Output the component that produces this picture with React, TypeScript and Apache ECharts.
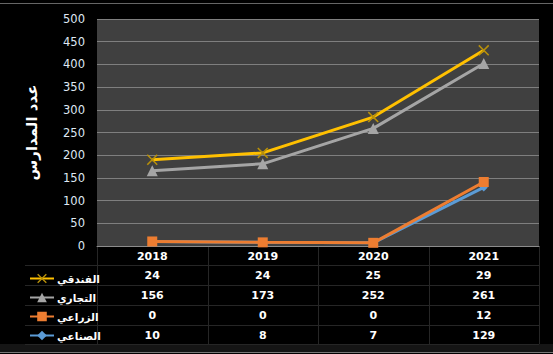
import React, { useEffect, useRef } from "react";
import * as echarts from "echarts";

const categories = ["2018", "2019", "2020", "2021"];
const seriesNames = ["الفندقي", "التجاري", "الزراعي", "الصناعي"];
const hotelValues = [24, 24, 25, 29];
const commercialValues = [156, 173, 252, 261];
const agricultureValues = [0, 0, 0, 12];
const industrialValues = [10, 8, 7, 129];
const yTicks = { min: 0, max: 500, interval: 50 };
const yTitle = "عدد المدارس";

const COLORS = {
  hotel: "#ffc000",
  commercial: "#a5a5a5",
  agriculture: "#ed7d31",
  industrial: "#5b9bd5",
};

const X_SYMBOL = "path://M0,1L1,0L5,4L9,0L10,1L6,5L10,9L9,10L5,6L1,10L0,9L4,5Z";
const FONT = "'DejaVu Sans', 'Noto Sans', sans-serif";

const GRID = { left: 97, right: 14, top: 19, bottom: 108 };

export default function App() {
  const ref = useRef<HTMLDivElement>(null);
  useEffect(() => {
    if (!ref.current) return;
    const chart = echarts.init(ref.current, null, { renderer: "svg" });
    const mkSeries = (
      name: string,
      data: number[],
      color: string,
      symbol: string,
      symbolSize: number,
      markerColor: string
    ) => ({
      name,
      type: "line",
      stack: "total",
      data,
      symbol,
      symbolSize,
      lineStyle: { color, width: 3 },
      itemStyle: { color: markerColor },
    });
    chart.setOption({
      animation: false,
      backgroundColor: "#000000",
      textStyle: { fontFamily: FONT },
      grid: {
        ...GRID,
        show: true,
        backgroundColor: "#404040",
        borderWidth: 0,
      },
      legend: {
        orient: "vertical",
        left: 24,
        top: 268,
        itemWidth: 24,
        itemHeight: 12,
        itemGap: 8,
        data: seriesNames,
        textStyle: { color: "#ffffff", fontWeight: "bold", fontSize: 10.5, fontFamily: FONT, padding: [0, 0, 0, -2] },
      },
      xAxis: {
        type: "category",
        data: categories,
        boundaryGap: true,
        axisLine: { lineStyle: { color: "#8c8c8c", width: 1 } },
        axisTick: { show: false },
        axisLabel: { color: "#ffffff", fontWeight: "bold", fontSize: 11, margin: 5, fontFamily: FONT },
        splitLine: { show: false },
      },
      yAxis: {
        type: "value",
        min: yTicks.min,
        max: yTicks.max,
        interval: yTicks.interval,
        name: yTitle,
        nameLocation: "middle",
        nameRotate: 90,
        nameGap: 58,
        nameTextStyle: { color: "#ffffff", fontWeight: "bold", fontSize: 15, fontFamily: FONT },
        axisLine: { show: false },
        axisTick: { show: false },
        axisLabel: { color: "#dfe8f4", fontSize: 11.5, margin: 12, fontFamily: FONT },
        splitLine: { lineStyle: { color: "#7f7f7f", width: 1 } },
      },
      series: [
        mkSeries(seriesNames[3], industrialValues, COLORS.industrial, "diamond", 8, COLORS.industrial),
        mkSeries(seriesNames[2], agricultureValues, COLORS.agriculture, "rect", 10, COLORS.agriculture),
        mkSeries(seriesNames[1], commercialValues, COLORS.commercial, "triangle", 11, COLORS.commercial),
        mkSeries(seriesNames[0], hotelValues, COLORS.hotel, X_SYMBOL, 11, "#b8900a"),
      ],
    });

    const rows = [hotelValues, commercialValues, agricultureValues, industrialValues];
    const rowCenters = [275, 295, 315, 335];
    const lineColor = "#262626";
    const graphics: any[] = [];
    const W = 553;
    graphics.push({ type: "line", shape: { x1: 0, y1: 3.5, x2: W, y2: 3.5 }, style: { stroke: "#666666", lineWidth: 1 }, silent: true });
    graphics.push({ type: "rect", shape: { x: 0, y: 344, width: W, height: 8 }, style: { fill: "#151515" }, silent: true });
    graphics.push({ type: "line", shape: { x1: 0, y1: 352.5, x2: W, y2: 352.5 }, style: { stroke: "#777777", lineWidth: 1 }, silent: true });
    const gridRight = W - GRID.right;
    const boundaries = [265, 285, 305, 325, 344];
    boundaries.forEach((y) =>
      graphics.push({ type: "line", shape: { x1: 25, y1: y + 0.5, x2: gridRight, y2: y + 0.5 }, style: { stroke: lineColor, lineWidth: 1 }, silent: true })
    );
    const catW = (W - GRID.left - GRID.right) / categories.length;
    for (let i = 0; i <= categories.length; i++) {
      const x = Math.round(GRID.left + i * catW) + 0.5;
      graphics.push({ type: "line", shape: { x1: x, y1: 246, x2: x, y2: 344 }, style: { stroke: lineColor, lineWidth: 1 }, silent: true });
    }
    rows.forEach((vals, r) => {
      vals.forEach((v, i) => {
        const px = chart.convertToPixel({ xAxisIndex: 0 }, categories[i]) as number;
        graphics.push({
          type: "text",
          x: px,
          y: rowCenters[r],
          silent: true,
          style: {
            text: String(v),
            fill: "#ffffff",
            font: `bold 11px ${FONT}`,
            align: "center",
            verticalAlign: "middle",
          },
        });
      });
    });
    chart.setOption({ graphic: graphics });
    return () => chart.dispose();
  }, []);
  return <div ref={ref} style={{ width: 553, height: 354, position: "absolute", left: 0, top: 0 }} />;
}
